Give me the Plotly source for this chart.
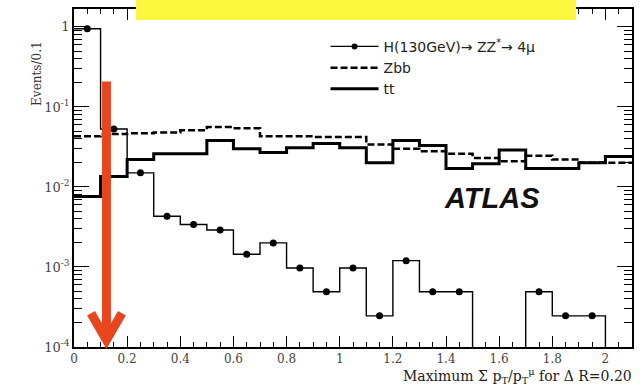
import numpy as np
import plotly.graph_objects as go

# ---- data (bin width 0.1) ----
bin_edges = [round(0.1 * i, 1) for i in range(22)]          # 0.0 ... 2.1
signal = [0.95, 0.053, 0.015, 0.0043, 0.0034, 0.0029, 0.00144, 0.0020,
          0.00097, 0.00049, 0.00097, 0.000245, 0.0012, 0.00049, 0.00049,
          0.0, 0.0, 0.00049, 0.000245, 0.000245]              # 0.0-2.0
zbb = [0.043, 0.046, 0.047, 0.048, 0.051, 0.056, 0.054, 0.043, 0.043,
       0.042, 0.042, 0.034, 0.030, 0.028, 0.026, 0.023, 0.021, 0.0245,
       0.022, 0.020, 0.020]                                   # 0.0-2.1
tt = [0.0076, 0.0135, 0.022, 0.026, 0.026, 0.038, 0.030, 0.027, 0.031,
      0.035, 0.031, 0.020, 0.038, 0.033, 0.017, 0.0195, 0.029, 0.017,
      0.017, 0.020, 0.024]                                    # 0.0-2.1
y_tickvals = [1e-4, 1e-3, 1e-2, 1e-1, 1]
y_ticktext = ["10<sup>-4</sup>", "10<sup>-3</sup>", "10<sup>-2</sup>", "10<sup>-1</sup>", "1"]
x_tickvals = [0, 0.2, 0.4, 0.6, 0.8, 1.0, 1.2, 1.4, 1.6, 1.8, 2.0]
x_ticktext = ["0", "0.2", "0.4", "0.6", "0.8", "1", "1.2", "1.4", "1.6", "1.8", "2"]
legend_names = ["H(130GeV)\u2192 ZZ<sup>*</sup>\u2192 4\u03bc", "Zbb", "tt"]

TINY = 1e-9
def step(vals, edges, close_down=False):
    xs = list(edges[:len(vals) + 1])
    ys = [v if v > 0 else TINY for v in vals]
    ys = ys + [TINY if close_down else ys[-1]]
    return xs, ys

fig = go.Figure()

ZDASH = "7px,3px"
# Zbb dashed
xs, ys = step(zbb, bin_edges)
fig.add_trace(go.Scatter(x=xs, y=ys, mode="lines", line_shape="hv",
                         line=dict(color="black", width=2.5, dash=ZDASH),
                         showlegend=False))
# tt thick solid
xs, ys = step(tt, bin_edges)
fig.add_trace(go.Scatter(x=xs, y=ys, mode="lines", line_shape="hv",
                         line=dict(color="black", width=3),
                         showlegend=False))
# signal thin with dots
xs, ys = step(signal, bin_edges, close_down=True)
fig.add_trace(go.Scatter(x=xs, y=ys, mode="lines", line_shape="hv",
                         line=dict(color="black", width=1.4),
                         showlegend=False))
centers = [round(bin_edges[i] + 0.05, 2) for i in range(len(signal)) if signal[i] > 0]
sig_nz = [v for v in signal if v > 0]
fig.add_trace(go.Scatter(x=centers, y=sig_nz, mode="markers",
                         marker=dict(color="black", size=7),
                         showlegend=False))

# legend entries
fig.add_trace(go.Scatter(x=[None], y=[None], mode="lines+markers", name=legend_names[0],
                         line=dict(color="black", width=1.2), marker=dict(color="black", size=6),
                         legendgroup="a"))
fig.add_trace(go.Scatter(x=[None], y=[None], mode="lines", name=legend_names[1],
                         line=dict(color="black", width=2.5, dash=ZDASH), legendgroup="b"))
fig.add_trace(go.Scatter(x=[None], y=[None], mode="lines", name=legend_names[2],
                         line=dict(color="black", width=3), legendgroup="c"))

L, R, T, B = 74, 8, 7, 38
W, H = 641, 385
PW, PH = W - L - R, H - T - B
def px(x):
    return (x - L) / PW
def py(y):
    return (H - B - y) / PH

serif = "DejaVu Serif, serif"
sans = "DejaVu Sans, sans-serif"
fig.update_layout(
    width=W, height=H, margin=dict(l=L, r=R, t=T, b=B),
    plot_bgcolor="white", paper_bgcolor="white",
    font=dict(family=serif, size=13, color="#222"),
    legend=dict(x=px(326), y=py(29), xanchor="left", yanchor="top",
                bgcolor="rgba(0,0,0,0)", tracegroupgap=0, itemwidth=48,
                font=dict(family=sans, size=14, color="#222")),
    xaxis=dict(range=[0, 2.1], showgrid=False, zeroline=False,
               showline=True, linecolor="black", linewidth=1.5, mirror="ticks",
               ticks="inside", ticklen=11, tickwidth=1.2, tickcolor="black",
               tickmode="array", tickvals=x_tickvals, ticktext=x_ticktext,
               minor=dict(ticks="inside", ticklen=5, tickwidth=1, tickcolor="black",
                          dtick=0.05, showgrid=False),
               tickfont=dict(family=serif, size=12, color="#444")),
    yaxis=dict(type="log", range=[-4, 0.224], showgrid=False, zeroline=False,
               showline=True, linecolor="black", linewidth=1.5, mirror="ticks",
               ticks="inside", ticklen=15, tickwidth=1.2, tickcolor="black",
               tickmode="array", tickvals=y_tickvals, ticktext=y_ticktext,
               minor=dict(ticks="inside", ticklen=8, tickwidth=1, tickcolor="black",
                          tickmode="array",
                          tickvals=[m * 10.0 ** e for e in range(-4, 1) for m in range(2, 10)],
                          showgrid=False),
               tickfont=dict(family=serif, size=13, color="#444")),
)

# axis titles
fig.add_annotation(text="Events/0.1", xref="paper", yref="paper",
                   x=px(28), y=py(38), textangle=-90, showarrow=False,
                   font=dict(family=serif, size=12, color="#333"))
fig.add_annotation(text="Maximum \u03a3 p<sub>T</sub>/p<sub>T</sub><sup>\u03bc</sup> for \u0394 R=0.20",
                   xref="paper", yref="paper", x=px(635), y=py(376),
                   xanchor="right", yanchor="middle", showarrow=False,
                   font=dict(family=serif, size=14, color="#222"))
# ATLAS label
fig.add_annotation(text="<b><i>ATLAS</i></b>", xref="paper", yref="paper",
                   x=px(443), y=py(197), xanchor="left", yanchor="middle", showarrow=False,
                   font=dict(family="Liberation Sans, Arial, sans-serif", size=29, color="#111"))

# yellow box at top
fig.add_shape(type="rect", xref="paper", yref="paper",
              x0=px(136), x1=px(577), y0=py(18), y1=py(-5),
              fillcolor="#FBF73F", line=dict(width=0), layer="above")

# red arrow
red = "#E8461E"
fig.add_shape(type="line", xref="paper", yref="paper",
              x0=px(106.5), x1=px(106.5), y0=py(80), y1=py(338),
              line=dict(color=red, width=9), layer="above")
fig.add_shape(type="path", xref="paper", yref="paper",
              path=f"M {px(91)},{py(313)} L {px(106.5)},{py(340)} L {px(122)},{py(313)}",
              line=dict(color=red, width=9), layer="above")

fig.write_html("out.html")
